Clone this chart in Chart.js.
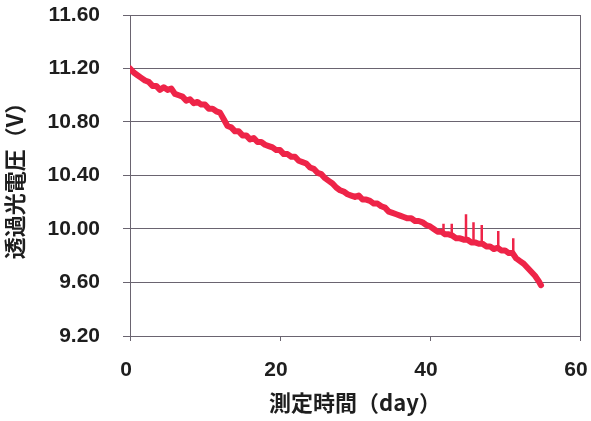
<!DOCTYPE html>
<html>
<head>
<meta charset="utf-8">
<script src="https://cdn.jsdelivr.net/npm/chart.js@4/dist/chart.umd.min.js"></script>
<style>
  html, body { margin: 0; padding: 0; background: #ffffff; }
  #wrap { width: 591px; height: 421px; position: relative; }
</style>
</head>
<body>
<div id="wrap"><canvas id="c" width="591" height="421"></canvas></div>
<script>
// Measurement time (days) and transmitted-light voltage (V)
const days = [
  0.0, 0.5, 1.0, 1.5, 2.0, 2.5, 3.0, 3.5, 4.0, 4.5, 5.0, 5.5, 6.0, 6.5, 7.0, 7.5, 8.0, 8.5, 9.0, 9.5,
  10.0, 10.5, 11.0, 11.5, 12.0, 12.5, 13.0, 13.5, 14.0, 14.5, 15.0, 15.5, 16.0, 16.5, 17.0, 17.5, 18.0, 18.5, 19.0, 19.5,
  20.0, 20.5, 21.0, 21.5, 22.0, 22.5, 23.0, 23.5, 24.0, 24.5, 25.0, 25.5, 26.0, 26.5, 27.0, 27.5, 28.0, 28.5, 29.0, 29.5,
  30.0, 30.5, 31.0, 31.5, 32.0, 32.5, 33.0, 33.5, 34.0, 34.5, 35.0, 35.5, 36.0, 36.5, 37.0, 37.5, 38.0, 38.5, 39.0, 39.5,
  40.0, 40.5, 41.0, 41.5, 42.0, 42.5, 43.0, 43.5, 44.0, 44.5, 45.0, 45.5, 46.0, 46.5, 47.0, 47.5, 48.0, 48.5, 49.0, 49.5,
  50.0, 50.5, 51.0, 51.5, 52.0, 52.5, 53.0, 53.5, 54.0, 54.5, 54.8
];
const volts = [
  11.20, 11.17, 11.15, 11.13, 11.11, 11.10, 11.07, 11.07, 11.04, 11.06, 11.04, 11.05, 11.01, 11.00, 10.99, 10.96, 10.97, 10.94, 10.95, 10.93,
  10.93, 10.90, 10.90, 10.88, 10.87, 10.82, 10.77, 10.76, 10.73, 10.73, 10.70, 10.70, 10.67, 10.68, 10.65, 10.65, 10.63, 10.62, 10.61, 10.59,
  10.59, 10.56, 10.56, 10.54, 10.54, 10.51, 10.50, 10.49, 10.46, 10.45, 10.42, 10.41, 10.38, 10.36, 10.34, 10.31, 10.29, 10.28, 10.26, 10.25,
  10.24, 10.25, 10.22, 10.22, 10.21, 10.19, 10.19, 10.17, 10.16, 10.13, 10.12, 10.11, 10.10, 10.09, 10.08, 10.08, 10.06, 10.06, 10.05, 10.03,
  10.02, 10.00, 9.98, 9.98, 9.96, 9.96, 9.95, 9.93, 9.93, 9.92, 9.92, 9.90, 9.90, 9.89, 9.89, 9.87, 9.87, 9.85, 9.86, 9.84,
  9.84, 9.82, 9.82, 9.78, 9.76, 9.74, 9.71, 9.68, 9.65, 9.61, 9.58
];

// Short upward spikes late in the run: day, level at foot, level at tip
const spikeDays = [41.8, 42.9, 44.8, 45.8, 46.9, 49.1, 51.1];
const spikeFoot = [9.98, 9.95, 9.92, 9.91, 9.89, 9.86, 9.82];
const spikeTip  = [10.04, 10.04, 10.11, 10.05, 10.03, 9.985, 9.93];

// Axis ticks
const yTicks = [9.20, 9.60, 10.00, 10.40, 10.80, 11.20, 11.60];
const xTicks = [0, 20, 40, 60];

const mainPoints = days.map((d, i) => ({ x: d, y: volts[i] }));
const spikePoints = [];
spikeDays.forEach((d, i) => {
  spikePoints.push({ x: d, y: spikeFoot[i] });
  spikePoints.push({ x: d, y: spikeTip[i] });
  spikePoints.push({ x: d, y: null });
});

const RED = '#ee2448';
const GRID = '#6a6470';
const TEXT = '#1e1e1e';
const numFont = { family: '"Liberation Sans", Arial, sans-serif', size: 21, weight: 'bold' };
const cjkFont = { family: '"Noto Sans CJK JP", "Noto Sans", sans-serif', size: 22, weight: 'bold' };

new Chart(document.getElementById('c'), {
  type: 'line',
  data: {
    datasets: [
      {
        data: mainPoints,
        borderColor: RED,
        borderWidth: 6,
        pointRadius: 0,
        tension: 0,
        borderJoinStyle: 'round',
        borderCapStyle: 'round'
      },
      {
        data: spikePoints,
        borderColor: RED,
        borderWidth: 2.5,
        pointRadius: 0,
        tension: 0,
        spanGaps: false
      }
    ]
  },
  options: {
    responsive: false,
    animation: false,
    devicePixelRatio: 1,
    layout: { padding: { top: 15, right: 11, bottom: 0, left: 0 } },
    plugins: {
      legend: { display: false },
      tooltip: { enabled: false }
    },
    scales: {
      x: {
        type: 'linear',
        min: 0,
        max: 60,
        afterBuildTicks: s => { s.ticks = xTicks.map(v => ({ value: v })); },
        afterFit: s => { s.height = 85; s.paddingLeft = 0; s.paddingRight = 0; },
        grid: {
          drawOnChartArea: true,
          color: c => (c.tick && c.tick.value === 60) ? GRID : 'rgba(0,0,0,0)',
          tickColor: GRID,
          tickLength: 5,
          lineWidth: 1
        },
        border: { display: true, color: GRID, width: 1 },
        ticks: {
          color: TEXT,
          font: numFont,
          padding: 17,
          labelOffset: -4,
          maxRotation: 0,
          callback: v => String(v)
        },
        title: {
          display: true,
          text: '測定時間（day）',
          color: TEXT,
          font: cjkFont,
          padding: { top: 0, bottom: 5 }
        }
      },
      y: {
        type: 'linear',
        min: 9.2,
        max: 11.6,
        afterBuildTicks: s => { s.ticks = yTicks.map(v => ({ value: v })); },
        afterFit: s => { s.width = 130; s.paddingTop = 0; s.paddingBottom = 0; },
        grid: {
          color: GRID,
          tickColor: GRID,
          tickLength: 7,
          lineWidth: 1
        },
        border: { display: true, color: GRID, width: 1 },
        ticks: {
          color: TEXT,
          font: numFont,
          padding: 23,
          callback: v => v.toFixed(2)
        },
        title: {
          display: true,
          text: '透過光電圧（V）',
          color: TEXT,
          font: cjkFont,
          padding: { top: 1, bottom: 0 }
        }
      }
    }
  }
});
</script>
</body>
</html>
